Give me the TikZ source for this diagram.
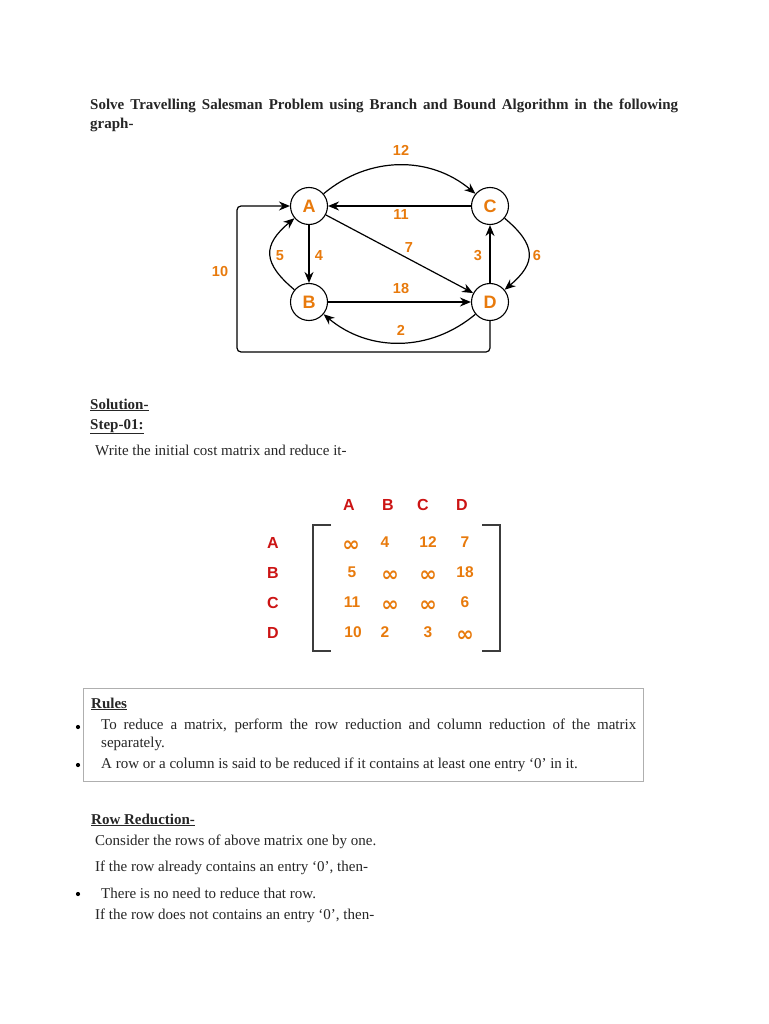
\documentclass[tikz,border=0pt]{standalone}
\usepackage{fontspec}
\setmainfont{Liberation Serif}
\newfontfamily\lsans{Liberation Sans}
\newfontfamily\djv{DejaVu Sans}
\usetikzlibrary{arrows.meta}
\definecolor{orng}{RGB}{232,122,12}
\definecolor{dred}{RGB}{204,20,20}
\definecolor{boxgray}{RGB}{175,175,175}
\definecolor{brk}{RGB}{60,60,60}
\tikzset{
  txt/.style={inner sep=0pt, anchor=base west, font=\fontsize{15}{19}\selectfont, text=black!85},
  vtx/.style={circle, draw, line width=1.1pt, minimum size=37pt, inner sep=0pt, text=orng, font=\lsans\bfseries\fontsize{18}{20}\selectfont},
  edge/.style={line width=1.2pt, -{Stealth[length=11pt,width=9pt]}},
  elab/.style={text=orng, font=\lsans\bfseries\fontsize{14.5}{16}\selectfont, inner sep=0pt},
  mhead/.style={text=dred, font=\lsans\bfseries\fontsize{16}{18}\selectfont, inner sep=0pt},
  ment/.style={text=orng, font=\lsans\bfseries\fontsize{15.5}{17}\selectfont, inner sep=0pt},
  minf/.style={text=orng, font=\djv\bfseries\fontsize{21}{21}\selectfont, inner sep=0pt},
  bul/.style={circle, fill=black, inner sep=0pt, minimum size=4.2pt},
  brack/.style={line width=1.7pt, brk}
}
\begin{document}
\begin{tikzpicture}[x=1pt,y=1pt]
\useasboundingbox[fill=white] (0,0) rectangle (768,-1024);

% title
\node[txt, text width=588pt, align=justify] (title) at (90,-110)
  {\bfseries Solve Travelling Salesman Problem using Branch and Bound Algorithm in the following graph-};

% graph
\node[vtx] (A) at (309,-206) {A};
\node[vtx] (C) at (490,-206) {C};
\node[vtx] (B) at (309,-302) {B};
\node[vtx] (D) at (490,-302) {D};

\draw[edge] (A) to[out=40,in=140] (C);
\draw[edge] (C) -- (A);
\draw[edge] (A) -- (B);
\draw[edge] (B) to[out=140,in=-140,looseness=1.5] (A);
\draw[edge] (A) -- (D);
\draw[edge] (B) -- (D);
\draw[edge] (D) to[out=-140,in=-40] (B);
\draw[edge] (D) -- (C);
\draw[edge] (C) to[out=-40,in=40,looseness=1.5] (D);
\coordinate (lc) at (237,-352);
\draw[edge, rounded corners=4pt] (D.south) |- (lc) |- (A.west);

\node[elab] (l12) at (401,-150) {12};
\node[elab] (l11) at (401,-215) {11};
\node[elab] (l7) at (409,-248) {7};
\node[elab] (l5) at (280,-256) {5};
\node[elab] (l4) at (319,-256) {4};
\node[elab] (l3) at (478,-256) {3};
\node[elab] (l6) at (537,-256) {6};
\node[elab] (l10) at (220,-272) {10};
\node[elab] (l18) at (401,-289) {18};
\node[elab] (l2) at (401,-330) {2};

% solution
\node[txt] (sol) at (90,-409) {\bfseries\underline{Solution-}};
\node[txt] (step) at (90,-429) {\bfseries\underline{Step-01:}};
\node[txt] (write) at (95,-455) {Write the initial cost matrix and reduce it-};

% matrix
\node[mhead] (hA) at (349,-505) {A};
\node[mhead] (hB) at (388,-505) {B};
\node[mhead] (hC) at (423,-505) {C};
\node[mhead] (hD) at (462,-505) {D};
\node[mhead] (rA) at (273,-543) {A};
\node[mhead] (rB) at (273,-573) {B};
\node[mhead] (rC) at (273,-603) {C};
\node[mhead] (rD) at (273,-633) {D};
\draw[brack] (331,-525) -- (313,-525) -- (313,-651) -- (331,-651);
\draw[brack] (482,-525) -- (500,-525) -- (500,-651) -- (482,-651);

\node[minf] (m11) at (351,-546) {∞};
\node[ment] (m12) at (385,-542) {4};
\node[ment] (m13) at (428,-542) {12};
\node[ment] (m14) at (465,-542) {7};
\node[ment] (m21) at (352,-572) {5};
\node[minf] (m22) at (390,-576) {∞};
\node[minf] (m23) at (428,-576) {∞};
\node[ment] (m24) at (465,-572) {18};
\node[ment] (m31) at (352,-602) {11};
\node[minf] (m32) at (390,-606) {∞};
\node[minf] (m33) at (428,-606) {∞};
\node[ment] (m34) at (465,-602) {6};
\node[ment] (m41) at (353,-632) {10};
\node[ment] (m42) at (385,-632) {2};
\node[ment] (m43) at (428,-632) {3};
\node[minf] (m44) at (465,-636) {∞};

% rules box
\draw[boxgray, line width=0.8pt] (83,-688) rectangle (643,-781);
\node[txt] (rules) at (91,-708) {\bfseries\underline{Rules}};
\node[bul] (b1) at (78,-727) {};
\node[txt, text width=535pt, align=justify, font=\fontsize{15}{18}\selectfont] (r1) at (101,-729)
  {To reduce a matrix, perform the row reduction and column reduction of the matrix \mbox{separately.}};
\node[bul] (b2) at (78,-765) {};
\node[txt] (r2) at (101,-768) {A row or a column is said to be reduced if it contains at least one entry ‘0’ in it.};

% row reduction
\node[txt] (rr) at (91,-824) {\bfseries\underline{Row Reduction-}};
\node[txt] (c1) at (95,-845) {Consider the rows of above matrix one by one.};
\node[txt] (c2) at (95,-871) {If the row already contains an entry ‘0’, then-};
\node[bul] (b3) at (78,-894) {};
\node[txt] (c3) at (101,-898) {There is no need to reduce that row.};
\node[txt] (c4) at (95,-919) {If the row does not contains an entry ‘0’, then-};
\end{tikzpicture}
\end{document}
